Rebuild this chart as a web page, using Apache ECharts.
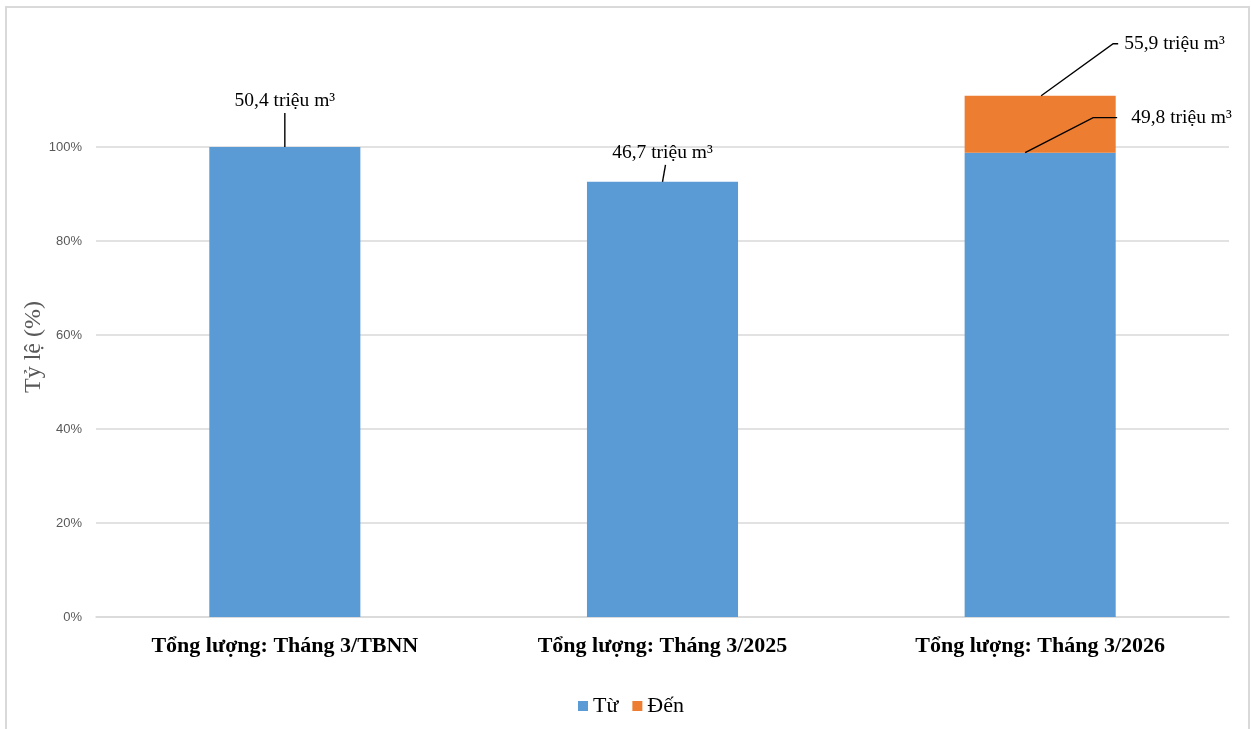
<!DOCTYPE html>
<html>
<head>
<meta charset="utf-8">
<script src="https://cdn.jsdelivr.net/npm/echarts@6/dist/echarts.min.js"></script>
<style>
  html, body { margin: 0; padding: 0; background: #fff; overflow: hidden; }
  #frame { position: absolute; left: 5px; top: 6px; width: 1245px; height: 740px; border: 2px solid #d9d9d9; box-sizing: border-box; }
  #chart { position: absolute; left: 0; top: 0; width: 1251px; height: 729px; }
</style>
</head>
<body>
<div id="frame"></div>
<div id="chart"></div>
<script>
// ---- Data ----
const categories = ['Tổng lượng: Tháng 3/TBNN', 'Tổng lượng: Tháng 3/2025', 'Tổng lượng: Tháng 3/2026'];
const seriesNames = ['Từ', 'Đến'];
const tuValues = [100, 92.6, 98.8];          // % (blue)
const denValues = [null, null, 12.1];        // % (orange, stacked)
const yTicks = [0, 20, 40, 60, 80, 100];
const annotationCategory = [0, 1, 2, 2];
const annotationTexts = ['50,4 triệu m³', '46,7 triệu m³', '49,8 triệu m³', '55,9 triệu m³'];

// annotation anchors: top of the stack at each category
const annotationValues = annotationCategory.map((c, k) =>
  k === 3 ? tuValues[c] + denValues[c] : tuValues[c]);

// leader-line geometry (pixel offsets from anchor; style only)
const leaderGeom = [
  { line: [[0, 0], [0, -34]], text: [0, -46], align: 'center' },
  { line: [[0, 0], [3, -17]], text: [0, -29], align: 'center' },
  { line: [[-15, 0], [53, -35], [77, -35]], text: [91, -35], align: 'left' },
  { line: [[1, 0], [73, -52], [78, -52]], text: [84, -52], align: 'left' }
];

const chart = echarts.init(document.getElementById('chart'));
const serif = '"Liberation Serif", "Times New Roman", serif';

chart.setOption({
  animation: false,
  backgroundColor: 'transparent',
  grid: { left: 96, right: 22, top: 53, bottom: 112 },
  legend: {
    data: seriesNames,
    bottom: 7,
    left: 573,
    icon: 'rect',
    itemWidth: 10,
    itemHeight: 10,
    itemGap: 14,
    textStyle: { fontFamily: serif, fontSize: 22, color: '#000' }
  },
  xAxis: {
    type: 'category',
    data: categories,
    axisLine: { lineStyle: { color: '#d9d9d9', width: 1.5 } },
    axisTick: { show: false },
    axisLabel: { fontFamily: serif, fontSize: 22, fontWeight: 'bold', color: '#000', margin: 18 }
  },
  yAxis: {
    type: 'value',
    min: 0,
    max: 120,
    interval: 20,
    name: 'Tỷ lệ (%)',
    nameLocation: 'middle',
    nameGap: 50,
    nameMoveOverlap: false,
    nameRotate: 90,
    nameTextStyle: { fontFamily: serif, fontSize: 24, color: '#595959', padding: [0, 24, 0, 0] },
    axisLine: { show: false },
    axisTick: { show: false },
    axisLabel: {
      fontFamily: '"Liberation Sans", Arial, sans-serif',
      fontSize: 13,
      color: '#595959',
      margin: 14,
      formatter: v => (yTicks.indexOf(v) >= 0 ? v + '%' : '')
    },
    splitLine: { show: true, showMaxLine: false, lineStyle: { color: '#d9d9d9', width: 1.5 } }
  },
  series: [
    {
      name: seriesNames[0],
      type: 'bar',
      stack: 'total',
      barWidth: '40%',
      itemStyle: { color: '#5b9bd5' },
      data: tuValues
    },
    {
      name: seriesNames[1],
      type: 'bar',
      stack: 'total',
      barWidth: '40%',
      itemStyle: { color: '#ed7d31' },
      data: denValues
    },
    {
      name: 'annotations',
      type: 'custom',
      z: 10,
      silent: true,
      data: annotationCategory.map((c, k) => [c, annotationValues[k]]),
      renderItem: function (params, api) {
        const i = params.dataIndex;
        const pt = api.coord([api.value(0), api.value(1)]);
        const g = leaderGeom[i];
        const pts = g.line.map(p => [pt[0] + p[0], pt[1] + p[1]]);
        return {
          type: 'group',
          children: [
            { type: 'polyline', shape: { points: pts }, style: { stroke: '#000', lineWidth: 1.4, fill: null } },
            {
              type: 'text',
              x: pt[0] + g.text[0],
              y: pt[1] + g.text[1],
              style: {
                text: annotationTexts[i],
                font: '19.5px ' + serif,
                fill: '#000',
                align: g.align,
                verticalAlign: 'middle'
              }
            }
          ]
        };
      }
    }
  ]
});
</script>
</body>
</html>
